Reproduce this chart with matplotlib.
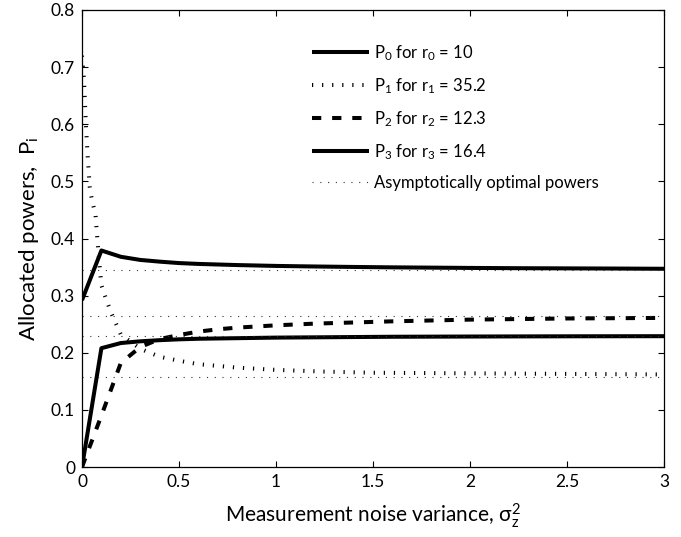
import matplotlib
matplotlib.use("Agg")
import matplotlib.pyplot as plt

plt.rcParams['font.family'] = ['Lato', 'DejaVu Sans']
plt.rcParams['mathtext.default'] = 'regular'

# Data
x_grid = [0, 0.1, 0.2, 0.3, 0.4, 0.5, 0.6, 0.7, 0.8, 1.0, 1.2, 1.4, 1.6, 1.8, 2.0, 2.25, 2.5, 2.75, 3.0]
P0 = [0.292, 0.379, 0.368, 0.3625, 0.3595, 0.357, 0.3555, 0.3545, 0.3535, 0.352, 0.351, 0.3502,
      0.3495, 0.349, 0.3485, 0.348, 0.3477, 0.3474, 0.347]
P2 = [0.0, 0.09, 0.182, 0.21, 0.224, 0.231, 0.237, 0.241, 0.244, 0.248, 0.251, 0.253,
      0.255, 0.2565, 0.258, 0.259, 0.260, 0.2605, 0.261]
P3 = [0.0, 0.208, 0.217, 0.220, 0.222, 0.2235, 0.2245, 0.225, 0.2255, 0.2265, 0.227, 0.2275,
      0.228, 0.2282, 0.2284, 0.2286, 0.2288, 0.2289, 0.229]
x_p1 = [0, 0.01, 0.02, 0.03, 0.04, 0.05, 0.06, 0.07, 0.08, 0.09, 0.1, 0.12, 0.15, 0.2, 0.3, 0.4,
        0.5, 0.6, 0.8, 1.0, 1.25, 1.5, 2.0, 2.5, 3.0]
P1 = [0.72, 0.68, 0.60, 0.54, 0.49, 0.47, 0.455, 0.44, 0.395, 0.355, 0.318, 0.298, 0.27, 0.232,
      0.207, 0.193, 0.186, 0.180, 0.174, 0.170, 0.167, 0.165, 0.164, 0.163, 0.162]
asymptotes = [0.344, 0.265, 0.2295, 0.157]

labels = [r'P$_0$ for r$_0$ = 10', r'P$_1$ for r$_1$ = 35.2', r'P$_2$ for r$_2$ = 12.3',
          r'P$_3$ for r$_3$ = 16.4', 'Asymptotically optimal powers']
xticks = [0, 0.5, 1, 1.5, 2, 2.5, 3]
xticklabels = ['0', '0.5', '1', '1.5', '2', '2.5', '3']
yticks = [0, 0.1, 0.2, 0.3, 0.4, 0.5, 0.6, 0.7, 0.8]
yticklabels = ['0', '0.1', '0.2', '0.3', '0.4', '0.5', '0.6', '0.7', '0.8']

fig = plt.figure(figsize=(6.81, 5.37), dpi=100)
ax = fig.add_axes([82/681, 1-467/537, (664-82)/681, (467-10)/537])

lw = 2.9
l0, = ax.plot(x_grid, P0, color='black', lw=lw, solid_capstyle='butt', label=labels[0])
l1, = ax.plot(x_p1, P1, color='black', lw=lw, linestyle=(0, (0.3, 2.2)), dash_capstyle='butt',
              label=labels[1])
l2, = ax.plot(x_grid, P2, color='black', lw=lw, linestyle=(0, (2.3, 2.7)), dash_capstyle='butt',
              label=labels[2])
l3, = ax.plot(x_grid, P3, color='black', lw=lw, solid_capstyle='butt', label=labels[3])
la = None
for i, a in enumerate(asymptotes):
    h, = ax.plot([0, 3], [a, a], color='#333333', lw=0.8, linestyle=(0, (1, 6)),
                 label=labels[4] if i == 0 else None)
    if i == 0:
        la = h

ax.set_xlim(0, 3)
ax.set_ylim(0, 0.8)
ax.set_xticks(xticks)
ax.set_xticklabels(xticklabels)
ax.set_yticks(yticks)
ax.set_yticklabels(yticklabels)
ax.tick_params(direction='in', length=4, width=0.8, top=True, right=True, labelsize=12.5, pad=5)
for s in ax.spines.values():
    s.set_linewidth(0.9)

ax.set_xlabel(r'Measurement noise variance, $\sigma_z^2$', fontsize=15, labelpad=8)
ax.set_ylabel(r'Allocated powers,  P$_i$', fontsize=16, labelpad=7)

leg = ax.legend(handles=[l0, l1, l2, l3, la], labels=labels, loc='upper left',
                bbox_to_anchor=(312/681, 1-43/537), bbox_transform=fig.transFigure,
                frameon=False, fontsize=12, handlelength=3.4, handletextpad=0.35,
                labelspacing=0.8, borderpad=0, borderaxespad=0)

fig.savefig('out.png', dpi=100)
